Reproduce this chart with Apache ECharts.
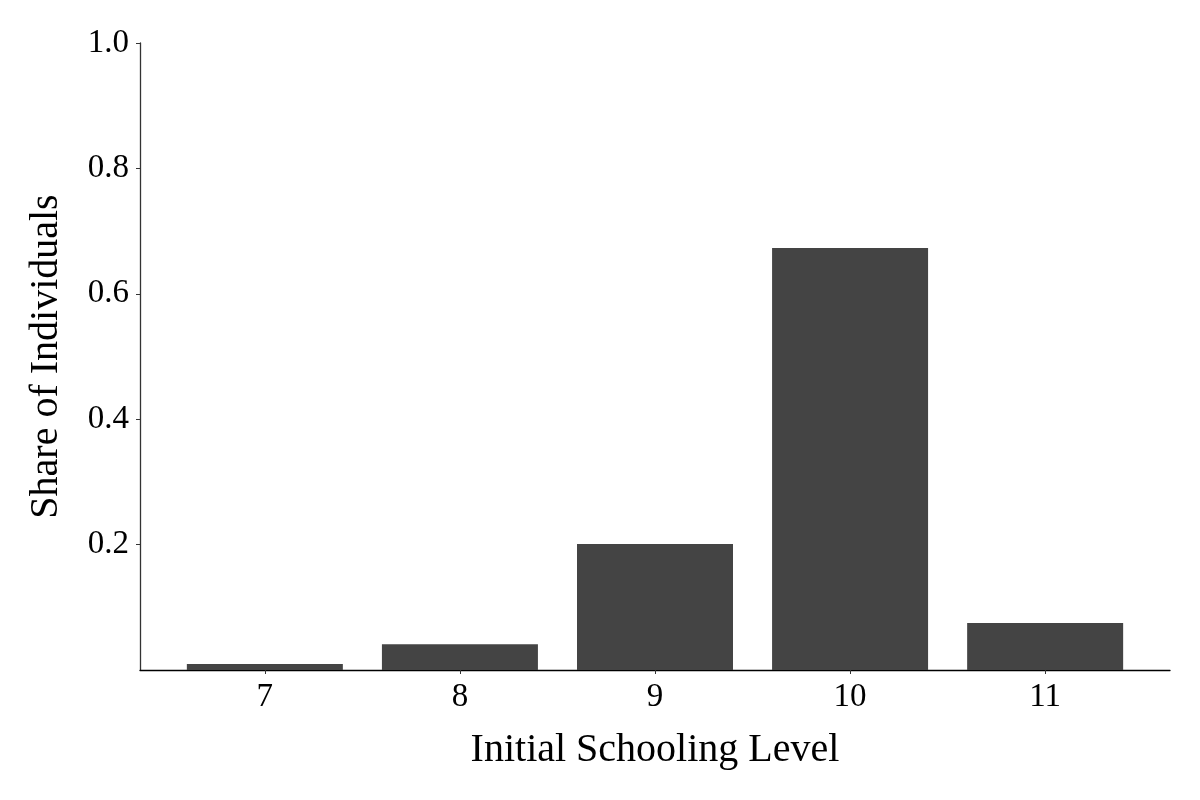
<!DOCTYPE html>
<html>
<head>
<meta charset="utf-8">
<script src="https://cdn.jsdelivr.net/npm/echarts@6/dist/echarts.min.js"></script>
<style>html,body{margin:0;padding:0;background:#fff;}#c{width:1200px;height:800px;}</style>
</head>
<body>
<div id="c"></div>
<script>
const categories = [7, 8, 9, 10, 11];
const shares = [0.0096, 0.041, 0.201, 0.673, 0.075];
const yTicks = [0.2, 0.4, 0.6, 0.8, 1.0];

const FONT = 'Liberation Serif';
const chart = echarts.init(document.getElementById('c'), null, {renderer: 'canvas'});
chart.setOption({
  backgroundColor: '#ffffff',
  animation: false,
  grid: {left: 140, right: 30, top: 43, bottom: 130, containLabel: false},
  xAxis: {
    type: 'value', min: 6.36, max: 11.64,
    name: 'Initial Schooling Level', nameLocation: 'middle', nameGap: 60,
    nameTextStyle: {fontFamily: FONT, fontSize: 40, color: '#000'},
    axisLine: {show: true, lineStyle: {color: '#000', width: 1.3}},
    axisTick: {show: true, length: 4, customValues: categories, lineStyle: {color: '#333'}},
    axisLabel: {customValues: categories, fontFamily: FONT, fontSize: 33, color: '#000', margin: 11},
    splitLine: {show: false}
  },
  yAxis: {
    type: 'value', min: 0, max: 1,
    name: 'Share of Individuals', nameLocation: 'middle', nameGap: 74, nameRotate: 90,
    nameTextStyle: {fontFamily: FONT, fontSize: 40, color: '#000'},
    axisLine: {show: true, lineStyle: {color: '#333', width: 1.3}},
    axisTick: {show: true, length: 4, customValues: yTicks, lineStyle: {color: '#333'}},
    axisLabel: {customValues: yTicks, formatter: v => v.toFixed(1), fontFamily: FONT, fontSize: 33, color: '#000', margin: 11},
    splitLine: {show: false}
  },
  series: [{
    type: 'bar',
    data: categories.map((c, i) => [c, shares[i]]),
    barWidth: 156,
    itemStyle: {color: '#444444'}
  }]
});
</script>
</body>
</html>
